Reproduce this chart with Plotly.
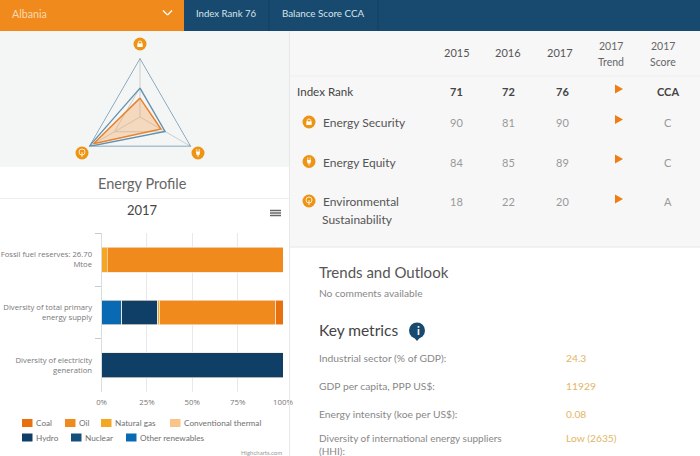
import plotly.graph_objects as go

# Radar data
radar_axes = ["Energy Security", "Energy Equity", "Environmental Sustainability"]
radar_outer = [100, 100, 100]
radar_mid = [49, 49, 100]
radar_country = [32, 41, 91]

# Stacked bars
rows = ["Fossil fuel reserves: 26.70<br>Mtoe",
        "Diversity of total primary<br>energy supply",
        "Diversity of electricity<br>generation"]
other_renewables = [0, 11, 0]
nuclear = [0, 0, 0]
hydro = [0, 20, 100]
conventional_thermal = [0, 0, 0]
natural_gas = [3, 1, 0]
oil = [97, 64, 0]
coal = [0, 4, 0]
pct_ticks = [0, 25, 50, 75, 100]
pct_labels = ["0%", "25%", "50%", "75%", "100%"]

# Table
years = ["2015", "2016", "2017"]
index_rank = ["71", "72", "76"]
security_rank = ["90", "81", "90"]
equity_rank = ["84", "85", "89"]
environment_rank = ["18", "22", "20"]
scores = ["CCA", "C", "C", "A"]

# Key metrics
metric_names = ["Industrial sector (% of GDP):", "GDP per capita, PPP US$:",
                "Energy intensity (koe per US$):", "Diversity of international energy suppliers<br>(HHI):"]
metric_values = ["24.3", "11929", "0.08", "Low (2635)"]

ORANGE = "#f18a1c"
NAVY = "#174a6e"
FONT = "Lato"
W, H = 700, 456


def fx(x):
    return x / W


def fy(y):
    return 1 - y / H


shapes = []
annotations = []


def rect(x0, y0, x1, y1, color):
    shapes.append(dict(type="rect", xref="paper", yref="paper", x0=fx(x0), x1=fx(x1),
                       y0=fy(y0), y1=fy(y1), fillcolor=color, line_width=0, layer="below"))


def line(x0, y0, x1, y1, color, width=1, layer="above"):
    shapes.append(dict(type="line", xref="paper", yref="paper", x0=fx(x0), x1=fx(x1),
                       y0=fy(y0), y1=fy(y1), line=dict(color=color, width=width), layer=layer))


def circle(cx, cy, r, color, outline=None):
    shapes.append(dict(type="circle", xref="paper", yref="paper", x0=fx(cx - r), x1=fx(cx + r),
                       y0=fy(cy - r), y1=fy(cy + r), fillcolor=color if outline is None else "rgba(0,0,0,0)",
                       line=dict(color=outline or color, width=0.8 if outline else 0)))


def poly(points, color):
    d = "M" + "L".join(f"{fx(x):.5f},{fy(y):.5f}" for x, y in points) + "Z"
    shapes.append(dict(type="path", xref="paper", yref="paper", path=d, fillcolor=color, line_width=0))


def label(x, y, text, size=10, color="#777777", anchor="left"):
    # annotations sit about 1px in from their anchor
    if anchor == "left":
        x -= 1
    annotations.append(dict(x=fx(x), y=fy(y), xref="paper", yref="paper", text=text, showarrow=False,
                            xanchor=anchor, yanchor="middle", align=anchor, borderpad=0,
                            font=dict(family=FONT, size=size, color=color)))


def lock_icon(cx, cy):
    circle(cx, cy, 6.5, "#ee9412")
    circle(cx, cy - 1.2, 1.8, None, "#ffffff")
    rect_pts = [(cx - 2.7, cy - 0.6), (cx + 2.7, cy - 0.6), (cx + 2.7, cy + 3), (cx - 2.7, cy + 3)]
    poly(rect_pts, "#ffffff")


def plug_icon(cx, cy):
    circle(cx, cy, 6.5, "#ee9412")
    poly([(cx - 2.2, cy - 1.5), (cx + 2.2, cy - 1.5), (cx + 1.4, cy + 2), (cx - 1.4, cy + 2)], "#ffffff")
    line(cx - 1.2, cy - 4, cx - 1.2, cy - 1.5, "#ffffff", 0.8)
    line(cx + 1.2, cy - 4, cx + 1.2, cy - 1.5, "#ffffff", 0.8)
    line(cx, cy + 2, cx, cy + 4, "#ffffff", 0.8)


def tree_icon(cx, cy):
    circle(cx, cy, 6.5, "#ee9412")
    circle(cx, cy - 1, 3, None, "#ffffff")
    line(cx, cy - 1, cx, cy + 4, "#ffffff", 0.8)


def arrow(cx, cy):
    poly([(cx - 4, cy - 4.5), (cx + 4, cy), (cx - 4, cy + 4.5)], "#ee7d14")


# Panels
rect(0, 0, 184, 31, ORANGE)
rect(184, 0, 700, 31, NAVY)
rect(0, 31, 290, 167, "#f4f5f5")
rect(290, 31, 700, 247, "#f7f7f7")
line(269, 0, 269, 31, "#12405f")
line(378, 0, 378, 31, "#12405f")
line(290, 76, 700, 76, "#efefef")
line(290, 247, 700, 247, "#e6e6e6")
line(0, 198.5, 290, 198.5, "#eeeeee")
line(289.5, 31, 289.5, 456, "#e8e8e8")

# Header bar
label(12, 13, "Albania", 10.7, "#f9d9b2")
line(163, 10.5, 167.5, 15, "#ffffff", 1.3)
line(167.5, 15, 172, 10.5, "#ffffff", 1.3)
label(196, 13, "Index Rank 76", 9.6, "#d8e3ea")
label(282, 13, "Balance Score CCA", 9.8, "#d8e3ea")

# Radar icons
lock_icon(140, 44)
tree_icon(82, 153)
plug_icon(198, 153)

label(142, 183, "Energy Profile", 14.5, "#666666", "center")
label(142, 210, "2017", 13, "#444444", "center")
for y in [210.5, 213, 215.5]:
    line(270, y, 281, y, "#666666", 1.5)

# Bar legend
legend_row = [("Coal", "#e8700f", 22, 423), ("Oil", ORANGE, 65, 423), ("Natural gas", "#f5a623", 101, 423),
              ("Conventional thermal", "#f9c38a", 170, 423), ("Hydro", "#0f3f66", 22, 437.5),
              ("Nuclear", "#13507c", 71, 437.5), ("Other renewables", "#0a69b3", 126, 437.5)]
for name, color, x, y in legend_row:
    rect(x, y - 4, x + 10.5, y + 4, color)
    label(x + 13.5, y, name, 8.2, "#707070")
label(283, 452, "Highcharts.com", 6, "#999999", "right")

# Table header
for x, year in zip([457, 508, 560], years):
    label(x, 53, year, 11, "#555555", "center")
label(611, 46, "2017", 10.5, "#666666", "center")
label(611, 62, "Trend", 10.5, "#666666", "center")
label(663, 46, "2017", 10.5, "#666666", "center")
label(663, 62, "Score", 10.5, "#666666", "center")

# Table rows
label(297, 91.5, "Index Rank", 11.6, "#444444")
for x, val in zip([456, 509, 562], index_rank):
    label(x, 91, f"<b>{val}</b>", 11, "#444444", "center")
label(668, 91, f"<b>{scores[0]}</b>", 11, "#444444", "center")
arrow(619, 89)

label(323, 122, "Energy Security", 12, "#555555")
label(323, 162, "Energy Equity", 12, "#555555")
label(323, 201, "Environmental", 12, "#555555")
label(322, 219, "Sustainability", 12, "#555555")
lock_icon(309, 122)
plug_icon(309, 161.5)
tree_icon(309, 201)
for y, arrow_y, vals, score in zip([122, 162, 201], [119.5, 159, 199],
                                   [security_rank, equity_rank, environment_rank], scores[1:]):
    for x, val in zip([456, 509, 562], vals):
        label(x, y, val, 11, "#999999", "center")
    label(668, y, score, 11, "#999999", "center")
    arrow(619, arrow_y)

# Lower right text
label(319, 272, "Trends and Outlook", 15, "#555555")
label(319, 293, "No comments available", 10.2, "#888888")
label(319, 330, "Key metrics", 15.5, "#444444")
circle(417, 330.5, 8, "#174a6e")
poly([(413.5, 337), (420.5, 337), (417, 341)], "#174a6e")
label(418, 330.5, "<b>i</b>", 11, "#ffffff", "center")
for y, name, val in zip([358, 385.5, 413.5], metric_names, metric_values):
    label(319, y, name, 10.3, "#888888")
    label(566, y, val, 10.3, "#e3b566")
# last metric wraps, the page ends just under it
label(319, 444, metric_names[3], 10, "#888888")
label(566, 438, metric_values[3], 10.3, "#e3b566")

fig = go.Figure()

# Radar
fig.add_trace(go.Scatterpolar(r=radar_outer + radar_outer[:1], theta=radar_axes + radar_axes[:1], mode="lines",
                              line=dict(color="#6290ae", width=1.3), showlegend=False))
fig.add_trace(go.Scatterpolar(r=radar_mid + radar_mid[:1], theta=radar_axes + radar_axes[:1], mode="lines",
                              line=dict(color="#6290ae", width=1.3), showlegend=False))
fig.add_trace(go.Scatterpolar(r=radar_country + radar_country[:1], theta=radar_axes + radar_axes[:1], mode="lines",
                              fill="toself", fillcolor="rgba(245,160,80,0.33)",
                              line=dict(color="#e8842c", width=1.5), showlegend=False))

# Bars, left to right
series = [("Other renewables", other_renewables, "#0a69b3"), ("Nuclear", nuclear, "#13507c"),
          ("Hydro", hydro, "#0f3f66"), ("Conventional thermal", conventional_thermal, "#f9c38a"),
          ("Natural gas", natural_gas, "#f5a623"), ("Oil", oil, ORANGE), ("Coal", coal, "#e8700f")]
for name, vals, color in series:
    fig.add_trace(go.Bar(name=name, y=rows, x=vals, orientation="h", width=0.47, showlegend=False,
                         marker=dict(color=color, line=dict(color="#f6e6d0", width=0.7))))

fig.update_layout(
    width=W, height=H, autosize=False,
    margin=dict(l=0, r=0, t=0, b=0, autoexpand=False),
    paper_bgcolor="#ffffff", plot_bgcolor="#ffffff",
    barmode="stack",
    showlegend=False,
    font=dict(family=FONT),
    shapes=shapes,
    annotations=annotations,
    polar=dict(
        domain=dict(x=[fx(81), fx(199)], y=[fy(176), fy(58)]),
        bgcolor="rgba(0,0,0,0)",
        gridshape="linear",
        radialaxis=dict(range=[0, 100], tickvals=[50, 100], showticklabels=False, ticks="",
                        gridcolor="#c9cfd2", gridwidth=1, showline=False),
        angularaxis=dict(type="category", categoryorder="array", categoryarray=radar_axes,
                         rotation=90, direction="clockwise", showticklabels=False, ticks="",
                         gridcolor="#c9cfd2", gridwidth=1, linecolor="rgba(0,0,0,0)"),
    ),
    xaxis=dict(domain=[fx(101.6), fx(283)], range=[0, 100], tickvals=pct_ticks, ticktext=pct_labels,
               showgrid=True, gridcolor="#e6e9ed", gridwidth=1, zeroline=False, showline=False, ticks="",
               ticklabelstandoff=4,
               tickfont=dict(family="Open Sans", size=7.8, color="#777777"), fixedrange=True),
    yaxis=dict(domain=[fy(391.7), fy(233.3)], autorange="reversed", type="category", categoryorder="array",
               categoryarray=rows, showgrid=False, showline=True, linecolor="#d8dde2", linewidth=1, ticks="outside",
               tickson="boundaries", ticklen=6, tickcolor="#c4cbd1", ticklabelstandoff=7,
               tickfont=dict(family="Open Sans", size=7.7, color="#777777"), fixedrange=True),
)

fig.write_html("out.html", config=dict(displayModeBar=False),
               post_script="document.body.style.margin='0';document.body.style.overflow='hidden';")
